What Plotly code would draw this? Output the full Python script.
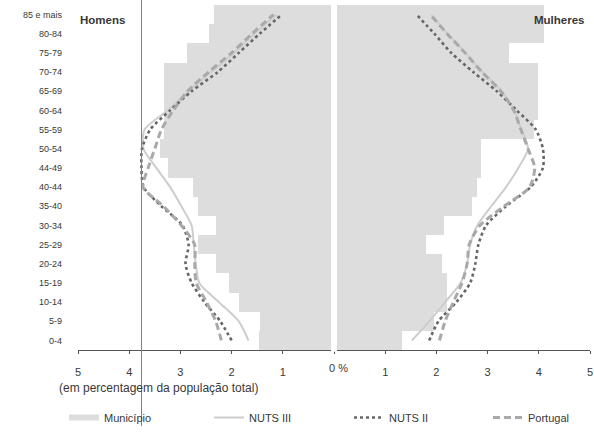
import plotly.graph_objects as go

W, H = 594, 432

# Age groups, bottom to top
ages = ["0-4", "5-9", "10-14", "15-19", "20-24", "25-29", "30-34", "35-40",
        "40-44", "44-49", "50-54", "55-59", "60-64", "65-69", "70-74",
        "75-79", "80-84", "85 e mais"]

# Município (bars)
mun_h = [1.47, 1.45, 1.85, 2.05, 2.3, 2.65, 2.3, 2.65, 2.75, 3.25, 3.4,
         3.33, 3.33, 3.33, 3.33, 2.88, 2.45, 2.35]
mun_m = [1.32, 1.95, 2.2, 2.2, 2.1, 1.8, 2.15, 2.7, 2.8, 2.87, 2.87,
         3.9, 3.98, 3.98, 3.98, 3.42, 4.1, 4.1]

# NUTS III
n3_h = [1.67, 1.86, 2.25, 2.63, 2.7, 2.74, 2.78, 2.98, 3.2, 3.47, 3.72,
        3.7, 3.25, 2.85, 2.4, 1.95, 1.55, 1.12]
n3_m = [1.52, 1.86, 2.17, 2.47, 2.6, 2.66, 2.8, 3.07, 3.36, 3.6, 3.79,
        3.66, 3.52, 3.27, 2.9, 2.57, 2.22, 1.9]

# NUTS II
n2_h = [2.0, 2.22, 2.53, 2.78, 2.9, 2.84, 2.96, 3.37, 3.72, 3.76, 3.75,
        3.59, 3.2, 2.78, 2.27, 1.86, 1.45, 1.02]
n2_m = [1.86, 2.04, 2.39, 2.66, 2.76, 2.82, 2.97, 3.36, 3.84, 4.08, 4.08,
        3.94, 3.57, 3.18, 2.72, 2.29, 1.96, 1.61]

# Portugal
pt_h = [2.2, 2.31, 2.49, 2.69, 2.72, 2.72, 2.98, 3.33, 3.73, 3.63, 3.5,
        3.37, 3.14, 2.86, 2.45, 2.0, 1.6, 1.18]
pt_m = [2.06, 2.17, 2.33, 2.5, 2.6, 2.64, 2.85, 3.32, 3.82, 3.92, 3.79,
        3.65, 3.51, 3.26, 2.89, 2.56, 2.21, 1.88]

tick_vals = [-5, -4, -3, -2, -1, 0, 1, 2, 3, 4, 5]
tick_text = ["5", "4", "3", "2", "1", "", "1", "2", "3", "4", "5"]

FONT = "Liberation Sans, Arial, sans-serif"
TXT = "#383838"
BAR = "#dddddd"

fig = go.Figure()

neg = lambda v: [-a for a in v]

fig.add_trace(go.Bar(y=ages, x=neg(mun_h), orientation="h", marker=dict(color=BAR, line=dict(width=0)),
                     showlegend=False, hoverinfo="skip"))
fig.add_trace(go.Bar(y=ages, x=mun_m, orientation="h", marker=dict(color=BAR, line=dict(width=0)),
                     showlegend=False, hoverinfo="skip"))

series = [
    ("NUTS III", n3_h, n3_m, dict(color="#cdcdcd", width=2, dash="solid"), "legend2"),
    ("NUTS II", n2_h, n2_m, dict(color="#666666", width=2.6, dash="dot"), "legend3"),
    ("Portugal", pt_h, pt_m, dict(color="#a9a9a9", width=3, dash="7px,4px"), "legend4"),
]
for name, vh, vm, ln, lg in series:
    for side, vals in (("h", neg(vh)), ("m", vm)):
        fig.add_trace(go.Scatter(y=ages, x=vals, mode="lines", name=name,
                                 line=dict(shape="spline", smoothing=0.7, **ln),
                                 showlegend=(side == "m"), legend=lg, legendgroup=name,
                                 hoverinfo="skip"))

# legend-only entry for Município
fig.add_trace(go.Scatter(x=[None], y=[None], mode="lines", name="Município",
                         line=dict(color=BAR, width=6), legend="legend"))

ylo, yhi = 1 - 355 / H, 1 - 5 / H
x0, x1 = 78 / W, 590 / W

fig.update_layout(
    width=W, height=H, margin=dict(l=0, r=0, t=0, b=0),
    paper_bgcolor="white", plot_bgcolor="white",
    barmode="overlay", bargap=0,
    font=dict(family=FONT, size=9, color=TXT),
    xaxis=dict(domain=[x0, x1], range=[-5, 5], tickvals=tick_vals, ticktext=tick_text,
               showgrid=False, zeroline=False, showline=True, linecolor="#555", linewidth=1,
               ticks="outside", ticklen=3, tickcolor="#555", ticklabelstandoff=9,
               tickfont=dict(size=11, color=TXT), automargin=False, fixedrange=True),
    yaxis=dict(domain=[ylo, yhi], type="category", categoryorder="array", categoryarray=ages,
               range=[-0.5, 17.5], showgrid=False, zeroline=False, showline=False,
               ticks="", ticklabelstandoff=15, tickfont=dict(size=9, color=TXT),
               automargin=False, fixedrange=True),
    showlegend=True,
)

legpos = {"legend": 64, "legend2": 209, "legend3": 349, "legend4": 488}
ly = 1 - 409 / H
for k, px in legpos.items():
    fig.update_layout(**{k: dict(x=px / W, y=ly, xanchor="left", yanchor="top",
                                 orientation="h", bgcolor="rgba(0,0,0,0)",
                                 font=dict(size=11, color=TXT, family=FONT),
                                 itemwidth=30, tracegroupgap=0)})

# white separator between the two halves
fig.add_shape(type="line", xref="x", yref="paper", x0=0, x1=0, y0=ylo - 0.004, y1=yhi,
              line=dict(color="white", width=6), layer="above")
# scan fold line
fig.add_shape(type="line", xref="paper", yref="paper", x0=141.5 / W, x1=141.5 / W, y0=0, y1=1,
              line=dict(color="#808080", width=1), layer="above")

fig.add_annotation(x=0, y=1 - 373 / H, xref="x", yref="paper", text="0 %", showarrow=False,
                   xanchor="left", yanchor="middle", xshift=-7, font=dict(size=11, color=TXT))
fig.add_annotation(x=78 / W, y=1 - 20 / H, xref="paper", yref="paper", text="<b>Homens</b>",
                   showarrow=False, xanchor="left", yanchor="middle", font=dict(size=11.5, color=TXT))
fig.add_annotation(x=587 / W, y=1 - 20 / H, xref="paper", yref="paper", text="<b>Mulheres</b>",
                   showarrow=False, xanchor="right", yanchor="middle", font=dict(size=11.5, color=TXT))
fig.add_annotation(x=57 / W, y=1 - 393 / H, xref="paper", yref="paper",
                   text="(em percentagem da população total)",
                   showarrow=False, xanchor="left", yanchor="middle", font=dict(size=12, color=TXT))

fig.write_html("out.html", config={"displayModeBar": False},
               post_script="document.body.style.margin='0';document.body.style.overflow='hidden';")
